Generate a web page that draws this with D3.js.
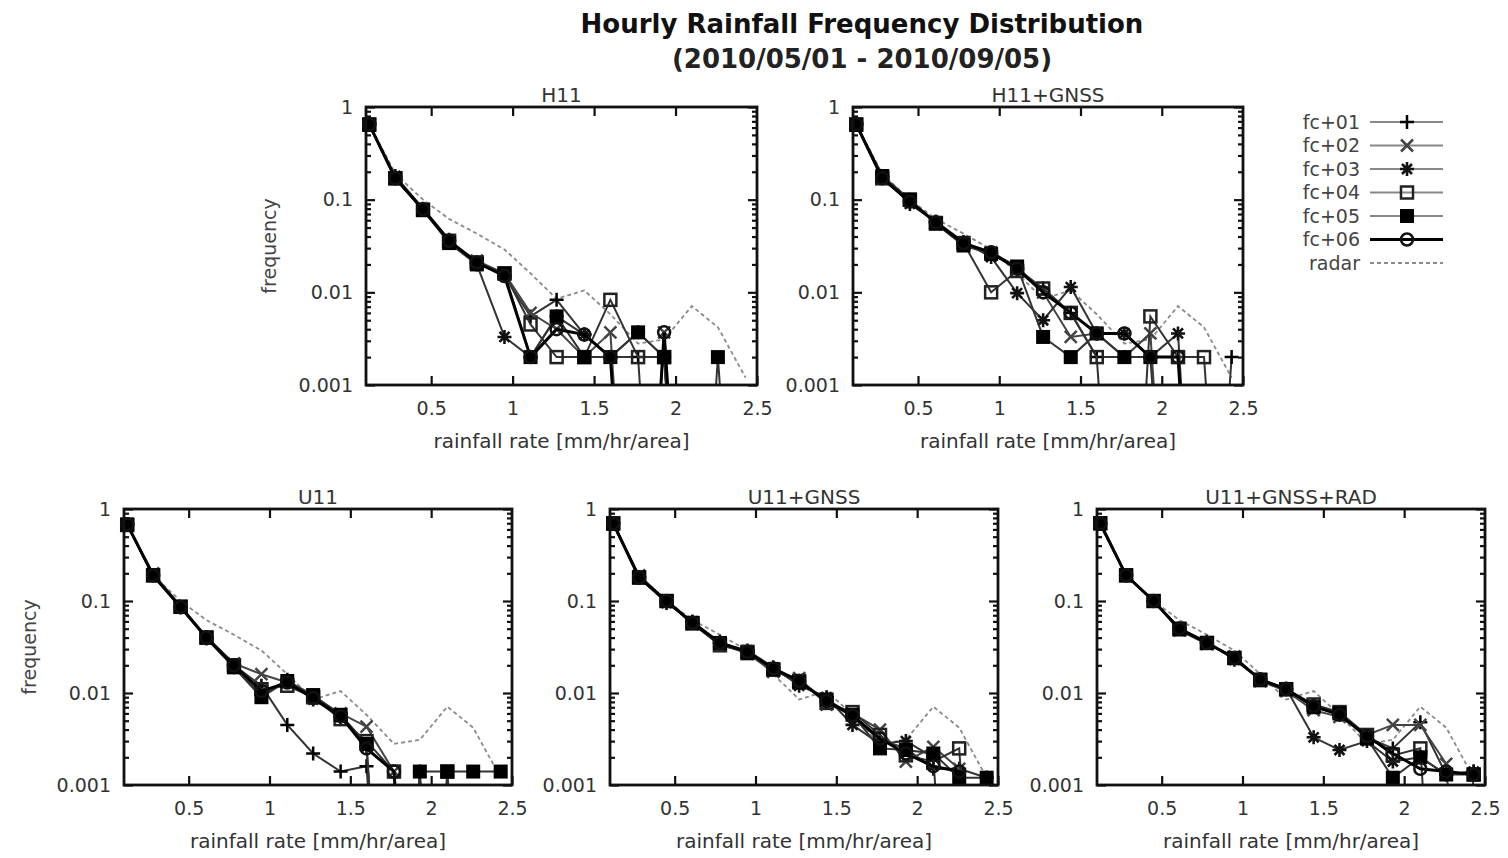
<!DOCTYPE html>
<html>
<head>
<meta charset="utf-8">
<script src="https://cdn.jsdelivr.net/npm/d3@7"></script>
<style>
  body { margin: 0; background: #fff; }
  svg text { font-family: "DejaVu Sans", sans-serif; }
</style>
</head>
<body>
<svg id="chart" width="1508" height="858"></svg>
<script>
// rainfall rate bins [mm/hr/area]
var rainRate = [0.12, 0.28, 0.45, 0.61, 0.78, 0.95, 1.11, 1.27, 1.44, 1.6, 1.77, 1.93, 2.1, 2.26, 2.43];
var seriesNames = ['fc+01', 'fc+02', 'fc+03', 'fc+04', 'fc+05', 'fc+06', 'radar'];
var panelTitles = ['H11', 'H11+GNSS', 'U11', 'U11+GNSS', 'U11+GNSS+RAD'];
var xTicks = [0.5, 1, 1.5, 2, 2.5];
var yTicks = [1, 0.1, 0.01, 0.001];
var yTickLabels = ['1', '0.1', '0.01', '0.001'];

// observed frequency (same in every panel)
var radar = [0.66, 0.19, 0.1, 0.062, 0.043, 0.029, 0.016, 0.0085, 0.0105, 0.0058, 0.0028, 0.0031, 0.0071, 0.0042, 0.0012];

// forecast frequency, rows fc+01 .. fc+06 (0 = no rain in that bin)
var h11 = [
  [0.66, 0.17, 0.078, 0.036, 0.021, 0.015, 0.0055, 0.0083, 0.0035, 0.002, 0.002, 0, 0, 0, 0],
  [0.65, 0.17, 0.076, 0.035, 0.022, 0.016, 0.006, 0.004, 0.002, 0.0037, 0, 0.0037, 0, 0, 0],
  [0.64, 0.18, 0.08, 0.037, 0.02, 0.0033, 0.002, 0.0055, 0.0035, 0.002, 0.0037, 0.002, 0, 0, 0],
  [0.65, 0.17, 0.078, 0.036, 0.021, 0.016, 0.0045, 0.002, 0.002, 0.0083, 0.002, 0.002, 0, 0, 0],
  [0.64, 0.17, 0.077, 0.034, 0.02, 0.016, 0.002, 0.0055, 0.002, 0.002, 0.0037, 0.002, 0, 0.002, 0],
  [0.65, 0.17, 0.079, 0.036, 0.021, 0.015, 0.002, 0.004, 0.0035, 0.002, 0, 0.0037, 0, 0, 0]
];
var h11Gnss = [
  [0.66, 0.18, 0.1, 0.056, 0.034, 0.026, 0.018, 0.011, 0.006, 0.002, 0.002, 0.002, 0.002, 0, 0.002],
  [0.65, 0.17, 0.1, 0.055, 0.033, 0.027, 0.019, 0.01, 0.0033, 0.0036, 0.002, 0.0036, 0, 0, 0],
  [0.64, 0.18, 0.09, 0.058, 0.035, 0.024, 0.0098, 0.005, 0.0114, 0.0036, 0.0036, 0.002, 0.0036, 0, 0],
  [0.65, 0.17, 0.1, 0.056, 0.034, 0.01, 0.017, 0.011, 0.006, 0.002, 0, 0.0055, 0.002, 0.002, 0],
  [0.64, 0.18, 0.1, 0.055, 0.032, 0.026, 0.019, 0.0033, 0.002, 0.0036, 0.002, 0.002, 0, 0, 0],
  [0.65, 0.17, 0.095, 0.057, 0.034, 0.027, 0.018, 0.01, 0.006, 0.0036, 0.0036, 0.002, 0.002, 0, 0]
];
var u11 = [
  [0.68, 0.19, 0.086, 0.04, 0.02, 0.012, 0.0045, 0.0022, 0.0014, 0.0016, 0, 0, 0, 0, 0],
  [0.67, 0.2, 0.088, 0.041, 0.021, 0.016, 0.013, 0.009, 0.006, 0.0043, 0.0014, 0, 0, 0, 0],
  [0.68, 0.19, 0.085, 0.039, 0.019, 0.0095, 0.0139, 0.0085, 0.0055, 0.0026, 0, 0.0014, 0, 0, 0],
  [0.67, 0.19, 0.087, 0.04, 0.02, 0.011, 0.012, 0.009, 0.0052, 0.003, 0.0014, 0, 0.0014, 0, 0],
  [0.68, 0.19, 0.086, 0.04, 0.019, 0.009, 0.0135, 0.0095, 0.0058, 0.0028, 0, 0.0014, 0.0014, 0.0014, 0.0014],
  [0.68, 0.19, 0.086, 0.04, 0.02, 0.0105, 0.013, 0.0088, 0.0056, 0.0025, 0.0014, 0, 0, 0, 0]
];
var u11Gnss = [
  [0.7, 0.18, 0.1, 0.058, 0.036, 0.028, 0.018, 0.013, 0.0083, 0.0055, 0.0031, 0.0025, 0.0015, 0.0015, 0.0012],
  [0.69, 0.19, 0.1, 0.056, 0.034, 0.027, 0.017, 0.0145, 0.0075, 0.006, 0.004, 0.0018, 0.0026, 0.0015, 0],
  [0.7, 0.18, 0.095, 0.06, 0.035, 0.029, 0.019, 0.012, 0.009, 0.0045, 0.0028, 0.003, 0.002, 0, 0.0012],
  [0.7, 0.18, 0.1, 0.057, 0.033, 0.028, 0.018, 0.0135, 0.0078, 0.0062, 0.0035, 0.0021, 0.0018, 0.0025, 0],
  [0.69, 0.18, 0.1, 0.058, 0.035, 0.027, 0.018, 0.013, 0.0085, 0.0058, 0.0025, 0.0024, 0.0022, 0.0012, 0.0012],
  [0.7, 0.18, 0.1, 0.058, 0.035, 0.028, 0.0185, 0.0135, 0.0082, 0.0057, 0.0032, 0.0022, 0.0016, 0.0014, 0]
];
var u11GnssRad = [
  [0.7, 0.19, 0.1, 0.05, 0.035, 0.024, 0.014, 0.011, 0.0071, 0.006, 0.0033, 0.0025, 0.0048, 0.0013, 0.0014],
  [0.7, 0.19, 0.1, 0.048, 0.034, 0.025, 0.0135, 0.0105, 0.0065, 0.0055, 0.0035, 0.0045, 0.0045, 0.0017, 0],
  [0.69, 0.19, 0.1, 0.05, 0.036, 0.023, 0.014, 0.0112, 0.0033, 0.0024, 0.003, 0.0018, 0.002, 0.0013, 0.0014],
  [0.7, 0.19, 0.1, 0.05, 0.035, 0.024, 0.0138, 0.011, 0.0075, 0.0062, 0.0035, 0.0021, 0.0025, 0, 0.0013],
  [0.7, 0.19, 0.1, 0.049, 0.035, 0.024, 0.014, 0.011, 0.007, 0.006, 0.0032, 0.0012, 0.002, 0.0013, 0.0013],
  [0.7, 0.19, 0.1, 0.05, 0.035, 0.024, 0.014, 0.011, 0.0072, 0.0058, 0.0034, 0.0022, 0.0015, 0.0014, 0.0013]
];

var panelData = [h11, h11Gnss, u11, u11Gnss, u11GnssRad];

// layout of the five plot frames
var frames = [
  {left: 366, top: 107, width: 391, height: 278, yLabel: true},
  {left: 853, top: 107, width: 390, height: 278},
  {left: 124, top: 509, width: 388, height: 276, yLabel: true},
  {left: 610, top: 509, width: 388, height: 276},
  {left: 1097, top: 509, width: 388, height: 276}
];

// gnuplot-ish point types and line styles
var styles = [
  {symbol: 'plus', line: '#333', lineWidth: 2, mark: '#000'},
  {symbol: 'cross', line: '#444', lineWidth: 2, mark: '#444'},
  {symbol: 'star', line: '#333', lineWidth: 2, mark: '#111'},
  {symbol: 'openSquare', line: '#333', lineWidth: 2, mark: '#222'},
  {symbol: 'fillSquare', line: '#333', lineWidth: 2, mark: '#000'},
  {symbol: 'openCircle', line: '#000', lineWidth: 3, mark: '#111'},
  {symbol: null, line: '#8a8a8a', lineWidth: 1.8, dash: '4,3'}
];

var xDomain = [0.1, 2.5];
var zeroFloor = 1e-7;   // zero counts fall off the bottom of the log axis
var svg = d3.select('#chart');

function drawMarker(sel, symbol, color) {
  var s = 6;
  if (symbol === 'plus') {
    sel.append('path').attr('d', 'M' + (-s - 1) + ',0H' + (s + 1) + 'M0,' + (-s - 1) + 'V' + (s + 1))
      .attr('stroke', color).attr('stroke-width', 2.5).attr('fill', 'none');
  } else if (symbol === 'cross') {
    sel.append('path').attr('d', 'M' + (-s) + ',' + (-s) + 'L' + s + ',' + s + 'M' + (-s) + ',' + s + 'L' + s + ',' + (-s))
      .attr('stroke', color).attr('stroke-width', 2.5).attr('fill', 'none');
  } else if (symbol === 'star') {
    sel.append('path').attr('d', 'M-7,0H7M0,-7V7M-5,-5L5,5M-5,5L5,-5')
      .attr('stroke', color).attr('stroke-width', 2.6).attr('fill', 'none');
  } else if (symbol === 'openSquare') {
    sel.append('rect').attr('x', -s).attr('y', -s).attr('width', 2 * s).attr('height', 2 * s)
      .attr('stroke', color).attr('stroke-width', 2.5).attr('fill', 'none');
  } else if (symbol === 'fillSquare') {
    sel.append('rect').attr('x', -s - 1).attr('y', -s - 1).attr('width', 2 * s + 2).attr('height', 2 * s + 2)
      .attr('fill', color);
  } else if (symbol === 'openCircle') {
    sel.append('circle').attr('r', s).attr('stroke', color).attr('stroke-width', 2.5).attr('fill', 'none');
  }
}

function render(p, i) {
  var data = panelData[i].concat([radar]);
  var x = d3.scaleLinear().domain(xDomain).range([0, p.width]);
  var y = d3.scaleLog().domain([0.001, 1]).range([p.height, 0]);

  var g = svg.append('g')
    .attr('transform', 'translate(' + p.left + ',' + p.top + ')');

  g.append('clipPath')
      .attr('id', 'clip' + i)
    .append('rect')
      .attr('width', p.width)
      .attr('height', p.height);

  // minor log ticks, left and right, pointing inwards
  var minor = [];
  [0.001, 0.01, 0.1].forEach(function(d) {
    for (var m = 2; m < 10; m++) minor.push(d * m);
  });

  g.append('g').attr('class', 'axis')
    .call(d3.axisLeft(y).tickValues(minor).tickSize(-5).tickFormat(''));
  g.append('g').attr('class', 'axis')
    .attr('transform', 'translate(' + p.width + ',0)')
    .call(d3.axisRight(y).tickValues(minor).tickSize(-5).tickFormat(''));

  g.append('g').attr('class', 'axis axis--y')
    .call(d3.axisLeft(y).tickValues(yTicks).tickSize(-9).tickPadding(13)
      .tickFormat(function(d, j) { return yTickLabels[j]; }));
  g.append('g').attr('class', 'axis')
    .attr('transform', 'translate(' + p.width + ',0)')
    .call(d3.axisRight(y).tickValues(yTicks).tickSize(-9).tickFormat(''));

  g.append('g').attr('class', 'axis axis--x')
    .attr('transform', 'translate(0,' + p.height + ')')
    .call(d3.axisBottom(x).tickValues(xTicks).tickSize(-9).tickPadding(17)
      .tickFormat(d3.format('')));
  g.append('g').attr('class', 'axis')
    .call(d3.axisTop(x).tickValues(xTicks.slice(0, 4)).tickSize(-9).tickFormat(''));

  g.selectAll('.axis .domain').remove();
  g.selectAll('.axis line').attr('stroke', '#111').attr('stroke-width', 2.2);
  g.selectAll('.axis text')
    .attr('fill', '#333')
    .attr('font-size', 19)
    .attr('font-family', '"DejaVu Sans", sans-serif');

  var line = d3.line()
    .x(function(d, j) { return x(rainRate[j]); })
    .y(function(d) { return y(Math.max(d, zeroFloor)); });

  // radar first so the forecasts sit on top of it
  var order = [6, 0, 1, 2, 3, 4, 5];
  order.forEach(function(si) {
    var st = styles[si];
    g.append('path')
      .datum(data[si])
      .attr('clip-path', 'url(#clip' + i + ')')
      .attr('fill', 'none')
      .attr('stroke', st.line)
      .attr('stroke-width', st.lineWidth)
      .attr('stroke-dasharray', st.dash || null)
      .attr('d', line);

    if (!st.symbol) return;
    g.append('g')
      .selectAll('.pt')
        .data(data[si].map(function(v, j) { return {x: rainRate[j], v: v}; })
          .filter(function(d) { return d.v > 0; }))
      .enter().append('g')
        .attr('class', 'pt')
        .attr('transform', function(d) { return 'translate(' + x(d.x) + ',' + y(d.v) + ')'; })
        .each(function() { drawMarker(d3.select(this), st.symbol, st.mark); });
  });

  // frame
  g.append('rect')
    .attr('width', p.width)
    .attr('height', p.height)
    .attr('fill', 'none')
    .attr('stroke', '#111')
    .attr('stroke-width', 2.8);

  g.append('text')
    .attr('x', p.width / 2)
    .attr('y', -5)
    .attr('text-anchor', 'middle')
    .attr('font-size', 20)
    .attr('fill', '#333')
    .text(panelTitles[i]);

  g.append('text')
    .attr('x', p.width / 2)
    .attr('y', p.height + 63)
    .attr('text-anchor', 'middle')
    .attr('font-size', 20)
    .attr('fill', '#333')
    .text('rainfall rate [mm/hr/area]');

  if (p.yLabel) {
    g.append('text')
      .attr('transform', 'translate(' + (p.left === 366 ? -90 : -88) + ',' + (p.height / 2) + ') rotate(-90)')
      .attr('text-anchor', 'middle')
      .attr('font-size', 19)
      .attr('fill', '#444')
      .text('frequency');
  }
}

frames.forEach(render);

// Title
svg.append('text')
  .attr('x', 862)
  .attr('y', 33)
  .attr('text-anchor', 'middle')
  .attr('font-size', 26)
  .attr('font-weight', 'bold')
  .attr('fill', '#111')
  .text('Hourly Rainfall Frequency Distribution');

svg.append('text')
  .attr('x', 862)
  .attr('y', 68)
  .attr('text-anchor', 'middle')
  .attr('font-size', 26)
  .attr('font-weight', 'bold')
  .attr('fill', '#222')
  .text('(2010/05/01 - 2010/09/05)');

// Legend
// HACK: hard-coded legend position to the right of H11+GNSS
var legend = svg.append('g')
  .attr('transform', 'translate(1360,122)');

seriesNames.forEach(function(name, si) {
  var st = styles[si];
  var row = legend.append('g').attr('transform', 'translate(0,' + si * 23.5 + ')');
  row.append('text')
    .attr('text-anchor', 'end')
    .attr('dy', '0.35em')
    .attr('font-size', 19)
    .attr('fill', '#444')
    .text(name);
  row.append('line')
    .attr('x1', 10).attr('x2', 83)
    .attr('stroke', si < 5 ? '#888' : st.line)
    .attr('stroke-width', st.lineWidth)
    .attr('stroke-dasharray', st.dash || null);
  if (st.symbol) {
    var m = row.append('g').attr('transform', 'translate(47,0)');
    drawMarker(m, st.symbol, st.mark);
  }
});
</script>
</body>
</html>
